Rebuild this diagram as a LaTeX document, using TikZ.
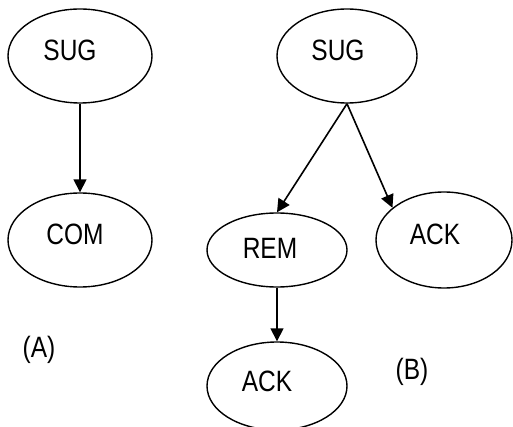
\documentclass[tikz,border=0pt]{standalone}
\usepackage{fontspec}
\setmainfont{Liberation Sans}
\usetikzlibrary{shapes.geometric,arrows.meta}
\begin{document}
\begin{tikzpicture}[x=1pt,y=-1pt,
  ell/.style={draw=black,line width=1.4pt,ellipse,inner sep=0pt,minimum width=#1},
  txt/.style={inner sep=0pt,font=\fontsize{24.5}{28}\selectfont},
  arr/.style={draw=black,line width=1.6pt,-{Triangle[length=13pt,width=13pt]}}]
\useasboundingbox (0,0) rectangle (513,427);
% (A)
\node[ell=144pt,minimum height=94pt] (sugA) at (80,56) {};
\node[ell=144pt,minimum height=94pt] (comA) at (80,240) {};
\node[txt] (sugAt) at (70,50) {\scalebox{1}[1.2]{SUG}};
\node[txt] (comAt) at (75,234) {\scalebox{1}[1.2]{COM}};
\node[txt] (labA) at (39,350) {\scalebox{1}[1.2]{(A)}};
\draw[arr] (sugA.south) -- (comA.north);
% (B)
\node[ell=140pt,minimum height=94pt] (sugB) at (347,56) {};
\node[ell=140pt,minimum height=74pt] (rem) at (277,250) {};
\node[ell=136pt,minimum height=96pt] (ackR) at (444,240) {};
\node[ell=140pt,minimum height=88pt] (ackB) at (277,386) {};
\node[txt] (sugBt) at (338,50) {\scalebox{1}[1.2]{SUG}};
\node[txt] (remt) at (270,248) {\scalebox{1}[1.2]{REM}};
\node[txt] (ackRt) at (435,234) {\scalebox{1}[1.2]{ACK}};
\node[txt] (ackBt) at (267,381) {\scalebox{1}[1.2]{ACK}};
\node[txt] (labB) at (412,372) {\scalebox{1}[1.2]{(B)}};
\draw[arr] (sugB.south) -- (rem.north);
\draw[arr] (sugB.south) -- (ackR.148);
\draw[arr] (rem.south) -- (ackB.north);
\end{tikzpicture}
\end{document}
